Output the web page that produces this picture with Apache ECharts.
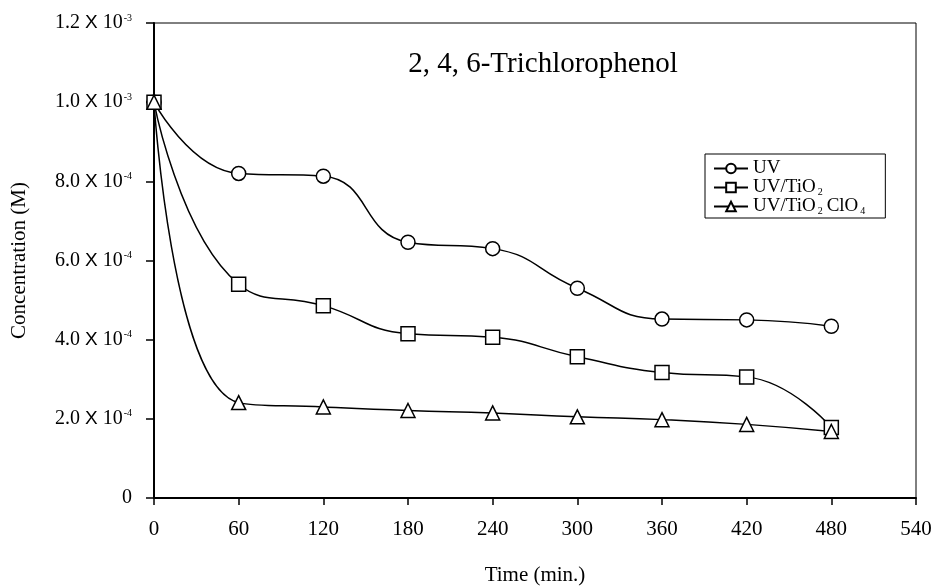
<!DOCTYPE html>
<html>
<head>
<meta charset="utf-8">
<script src="https://cdn.jsdelivr.net/npm/echarts@6/dist/echarts.min.js"></script>
<style>
  html, body { margin: 0; padding: 0; background: #fff; }
  #chart { width: 934px; height: 587px; }
</style>
</head>
<body>
<div id="chart"></div>
<script>
// 时间 (min.)
const times = [0, 60, 120, 180, 240, 300, 360, 420, 480];

// 浓度 (M)
const uvValues = [1.0e-3, 8.2e-4, 8.13e-4, 6.46e-4, 6.3e-4, 5.3e-4, 4.52e-4, 4.5e-4, 4.34e-4];
const uvTiO2Values = [1.0e-3, 5.4e-4, 4.86e-4, 4.15e-4, 4.06e-4, 3.57e-4, 3.17e-4, 3.06e-4, 1.78e-4];
const uvTiO2ClO4Values = [1.0e-3, 2.41e-4, 2.3e-4, 2.21e-4, 2.15e-4, 2.05e-4, 1.98e-4, 1.86e-4, 1.68e-4];

const seriesNames = ['UV', 'UV/TiO2', 'UV/TiO2ClO4'];

const SERIF = '"Liberation Serif", "DejaVu Serif", serif';
const SANS = '"Liberation Sans", Arial, sans-serif';

const pairs = (vals) => times.map((t, i) => [t, vals[i]]);

// y轴标签: 1.2 X 10^-3
function sciLabel(v) {
  if (v === 0) return '{m|0}';
  const e = Math.floor(Math.log10(v) + 1e-9);
  const m = (v / Math.pow(10, e)).toFixed(1);
  return `{m|${m} }{x|X}{m| 10}{e|${e}}`;
}

// 图例: 下标
function legendLabel(name) {
  if (name === 'UV/TiO2') return '{n|UV/TiO}{s|2}';
  if (name === 'UV/TiO2ClO4') return '{n|UV/TiO}{s|2}{n|ClO}{s|4}';
  return '{n|' + name + '}';
}

const chart = echarts.init(document.getElementById('chart'));

const lineBase = {
  type: 'line',
  smooth: 0.5,
  symbolSize: 14,
  lineStyle: { color: '#000', width: 1.5 },
  itemStyle: { color: '#fff', borderColor: '#000', borderWidth: 1.5 },
  z: 3
};

chart.setOption({
  animation: false,
  title: {
    text: '2, 4, 6-Trichlorophenol',
    left: 538,
    top: 45,
    textAlign: 'center',
    textStyle: { fontFamily: SERIF, fontSize: 29, fontWeight: 'normal', color: '#000' }
  },
  legend: {
    left: 705,
    top: 154,
    orient: 'vertical',
    padding: [5, 20, 2, 8],
    itemGap: 0,
    itemWidth: 34,
    itemHeight: 12,
    borderColor: '#000',
    borderWidth: 1,
    data: seriesNames,
    formatter: legendLabel,
    textStyle: {
      rich: {
        n: { fontFamily: SERIF, fontSize: 19, color: '#000', lineHeight: 19 },
        s: { fontFamily: SERIF, fontSize: 10, color: '#000', verticalAlign: 'bottom', padding: [7, 4, 0, 2] }
      }
    }
  },
  grid: {
    left: 154,
    right: 18,
    top: 23,
    bottom: 89,
    outerBoundsMode: 'none',
    containLabel: false,
    show: true,
    borderColor: '#000',
    borderWidth: 1
  },
  xAxis: {
    type: 'value',
    min: 0,
    max: 540,
    interval: 60,
    name: 'Time (min.)',
    nameLocation: 'middle',
    nameGap: 67,
    nameTextStyle: { fontFamily: SERIF, fontSize: 21, color: '#000' },
    axisLine: { lineStyle: { color: '#000', width: 2 } },
    axisTick: { show: true, length: 7, lineStyle: { color: '#000', width: 1.5 } },
    axisLabel: { fontFamily: SERIF, fontSize: 21, color: '#000', margin: 21 },
    splitLine: { show: false }
  },
  yAxis: {
    type: 'value',
    min: 0,
    max: 1.2e-3,
    interval: 2e-4,
    name: 'Concentration (M)',
    nameLocation: 'middle',
    nameGap: 124,
    nameTextStyle: { fontFamily: SERIF, fontSize: 21, color: '#000' },
    axisLine: { lineStyle: { color: '#000', width: 2 } },
    axisTick: { show: true, length: 8, lineStyle: { color: '#000', width: 1.5 } },
    axisLabel: {
      margin: 22,
      formatter: sciLabel,
      fontFamily: SERIF,
      fontSize: 20,
      color: '#000',
      rich: {
        m: { fontFamily: SERIF, fontSize: 20, color: '#000' },
        x: { fontFamily: SANS, fontSize: 19, color: '#000' },
        e: { fontFamily: SERIF, fontSize: 10, color: '#000', verticalAlign: 'top', padding: [0, 0, 9, 1] }
      }
    },
    splitLine: { show: false }
  },
  series: [
    Object.assign({}, lineBase, { name: 'UV', symbol: 'circle', data: pairs(uvValues) }),
    Object.assign({}, lineBase, { name: 'UV/TiO2', symbol: 'rect', data: pairs(uvTiO2Values) }),
    Object.assign({}, lineBase, { name: 'UV/TiO2ClO4', symbol: 'triangle', data: pairs(uvTiO2ClO4Values) })
  ]
});
</script>
</body>
</html>
